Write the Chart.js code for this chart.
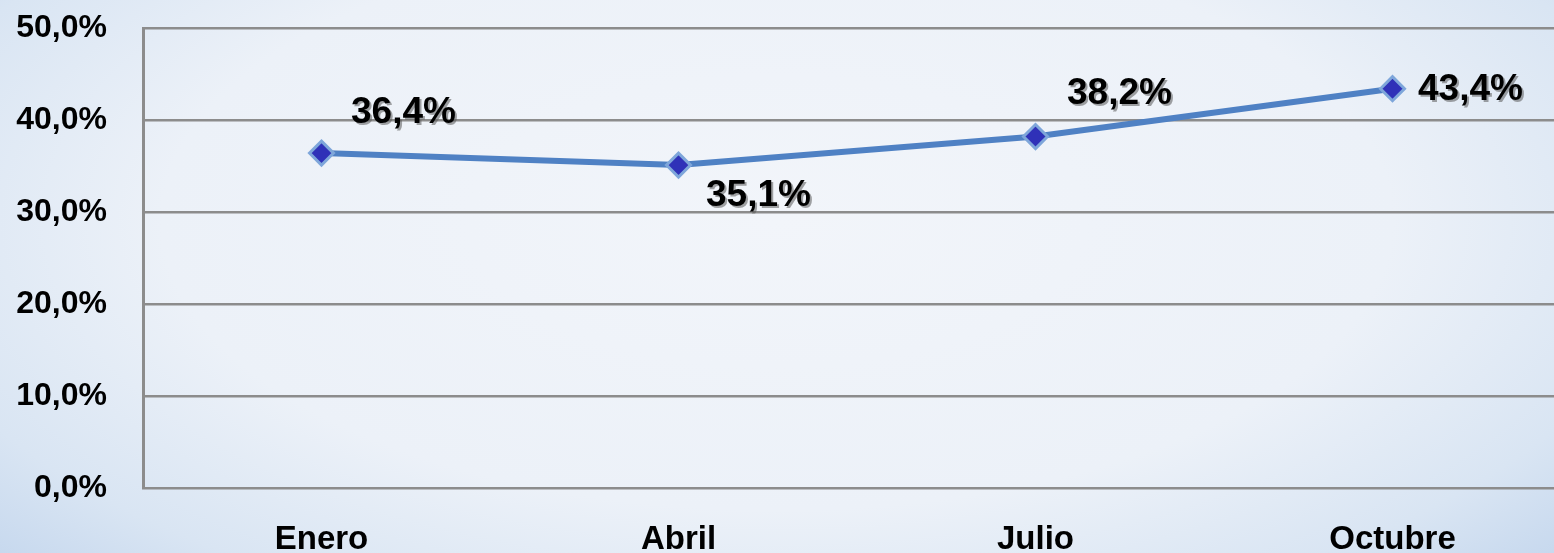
<!DOCTYPE html>
<html>
<head>
<meta charset="utf-8">
<script src="https://cdn.jsdelivr.net/npm/chart.js@4/dist/chart.umd.min.js"></script>
<style>
  html, body { margin:0; padding:0; width:1554px; height:553px; overflow:hidden; }
  body { background: radial-gradient(ellipse 72% 95% at 50% 40%, #f2f5fa 0%, #ecf1f8 55%, #d9e5f3 80%, #bfd3ec 100%); }
  #wrap { position:absolute; left:0; top:0; width:1600px; height:553px; }
</style>
</head>
<body>
<div id="wrap"><canvas id="c" width="1600" height="553"></canvas></div>
<script>
const categories = ["Enero", "Abril", "Julio", "Octubre"];
const values = [36.4, 35.1, 38.2, 43.4];
const valueLabels = ["36,4%", "35,1%", "38,2%", "43,4%"];
const yTicks = [0, 10, 20, 30, 40, 50];

const labelOffsets = [[82, -40], [80, 31], [84, -43], [78, 1]];

const fmt = v => v.toFixed(1).replace('.', ',') + '%';

const dataLabelPlugin = {
  id: 'dataLabels',
  afterDatasetsDraw(chart) {
    const ctx = chart.ctx;
    const meta = chart.getDatasetMeta(0);
    ctx.save();
    ctx.font = 'bold 37px "Liberation Sans", Arial, sans-serif';
    ctx.textAlign = 'center';
    ctx.textBaseline = 'middle';
    meta.data.forEach((pt, i) => {
      const [dx, dy] = labelOffsets[i];
      ctx.fillStyle = 'rgba(90,90,90,0.55)';
      ctx.fillText(valueLabels[i], pt.x + dx + 2, pt.y + dy + 2);
      ctx.fillStyle = '#000';
      ctx.fillText(valueLabels[i], pt.x + dx, pt.y + dy);
    });
    ctx.restore();
  }
};

new Chart(document.getElementById('c'), {
  type: 'line',
  data: {
    labels: categories,
    datasets: [{
      data: values,
      borderColor: '#4f81c4',
      borderWidth: 6,
      pointStyle: 'rectRot',
      pointRadius: 12,
      pointBackgroundColor: '#2f31b8',
      pointBorderColor: '#7ea6da',
      pointBorderWidth: 3,
      tension: 0,
      fill: false,
      clip: false
    }]
  },
  options: {
    responsive: false,
    animation: false,
    devicePixelRatio: 1,
    layout: { autoPadding: false, padding: { left: 0, right: 29, top: 28, bottom: 0 } },
    plugins: { legend: { display: false }, tooltip: { enabled: false } },
    scales: {
      x: {
        offset: true,
        afterFit(scale) { scale.height = 65; scale.paddingLeft = 0; scale.paddingRight = 0; },
        grid: { display: false, drawTicks: false },
        border: { display: false },
        ticks: {
          color: '#000',
          font: { family: '"Liberation Sans", Arial, sans-serif', size: 33, weight: 'bold' },
          padding: 32,
          maxRotation: 0
        }
      },
      y: {
        min: 0, max: 50,
        afterBuildTicks(scale) { scale.ticks = yTicks.map(v => ({ value: v })); },
        afterFit(scale) { scale.width = 143; scale.paddingTop = 0; scale.paddingBottom = 0; },
        grid: { color: '#8c8c8c', lineWidth: 2.5, drawTicks: false },
        border: { display: true, color: '#8c8c8c', width: 3 },
        ticks: {
          color: '#000',
          font: { family: '"Liberation Sans", Arial, sans-serif', size: 32, weight: 'bold' },
          padding: 36,
          callback: v => fmt(v)
        }
      }
    }
  },
  plugins: [dataLabelPlugin]
});
</script>
</body>
</html>
